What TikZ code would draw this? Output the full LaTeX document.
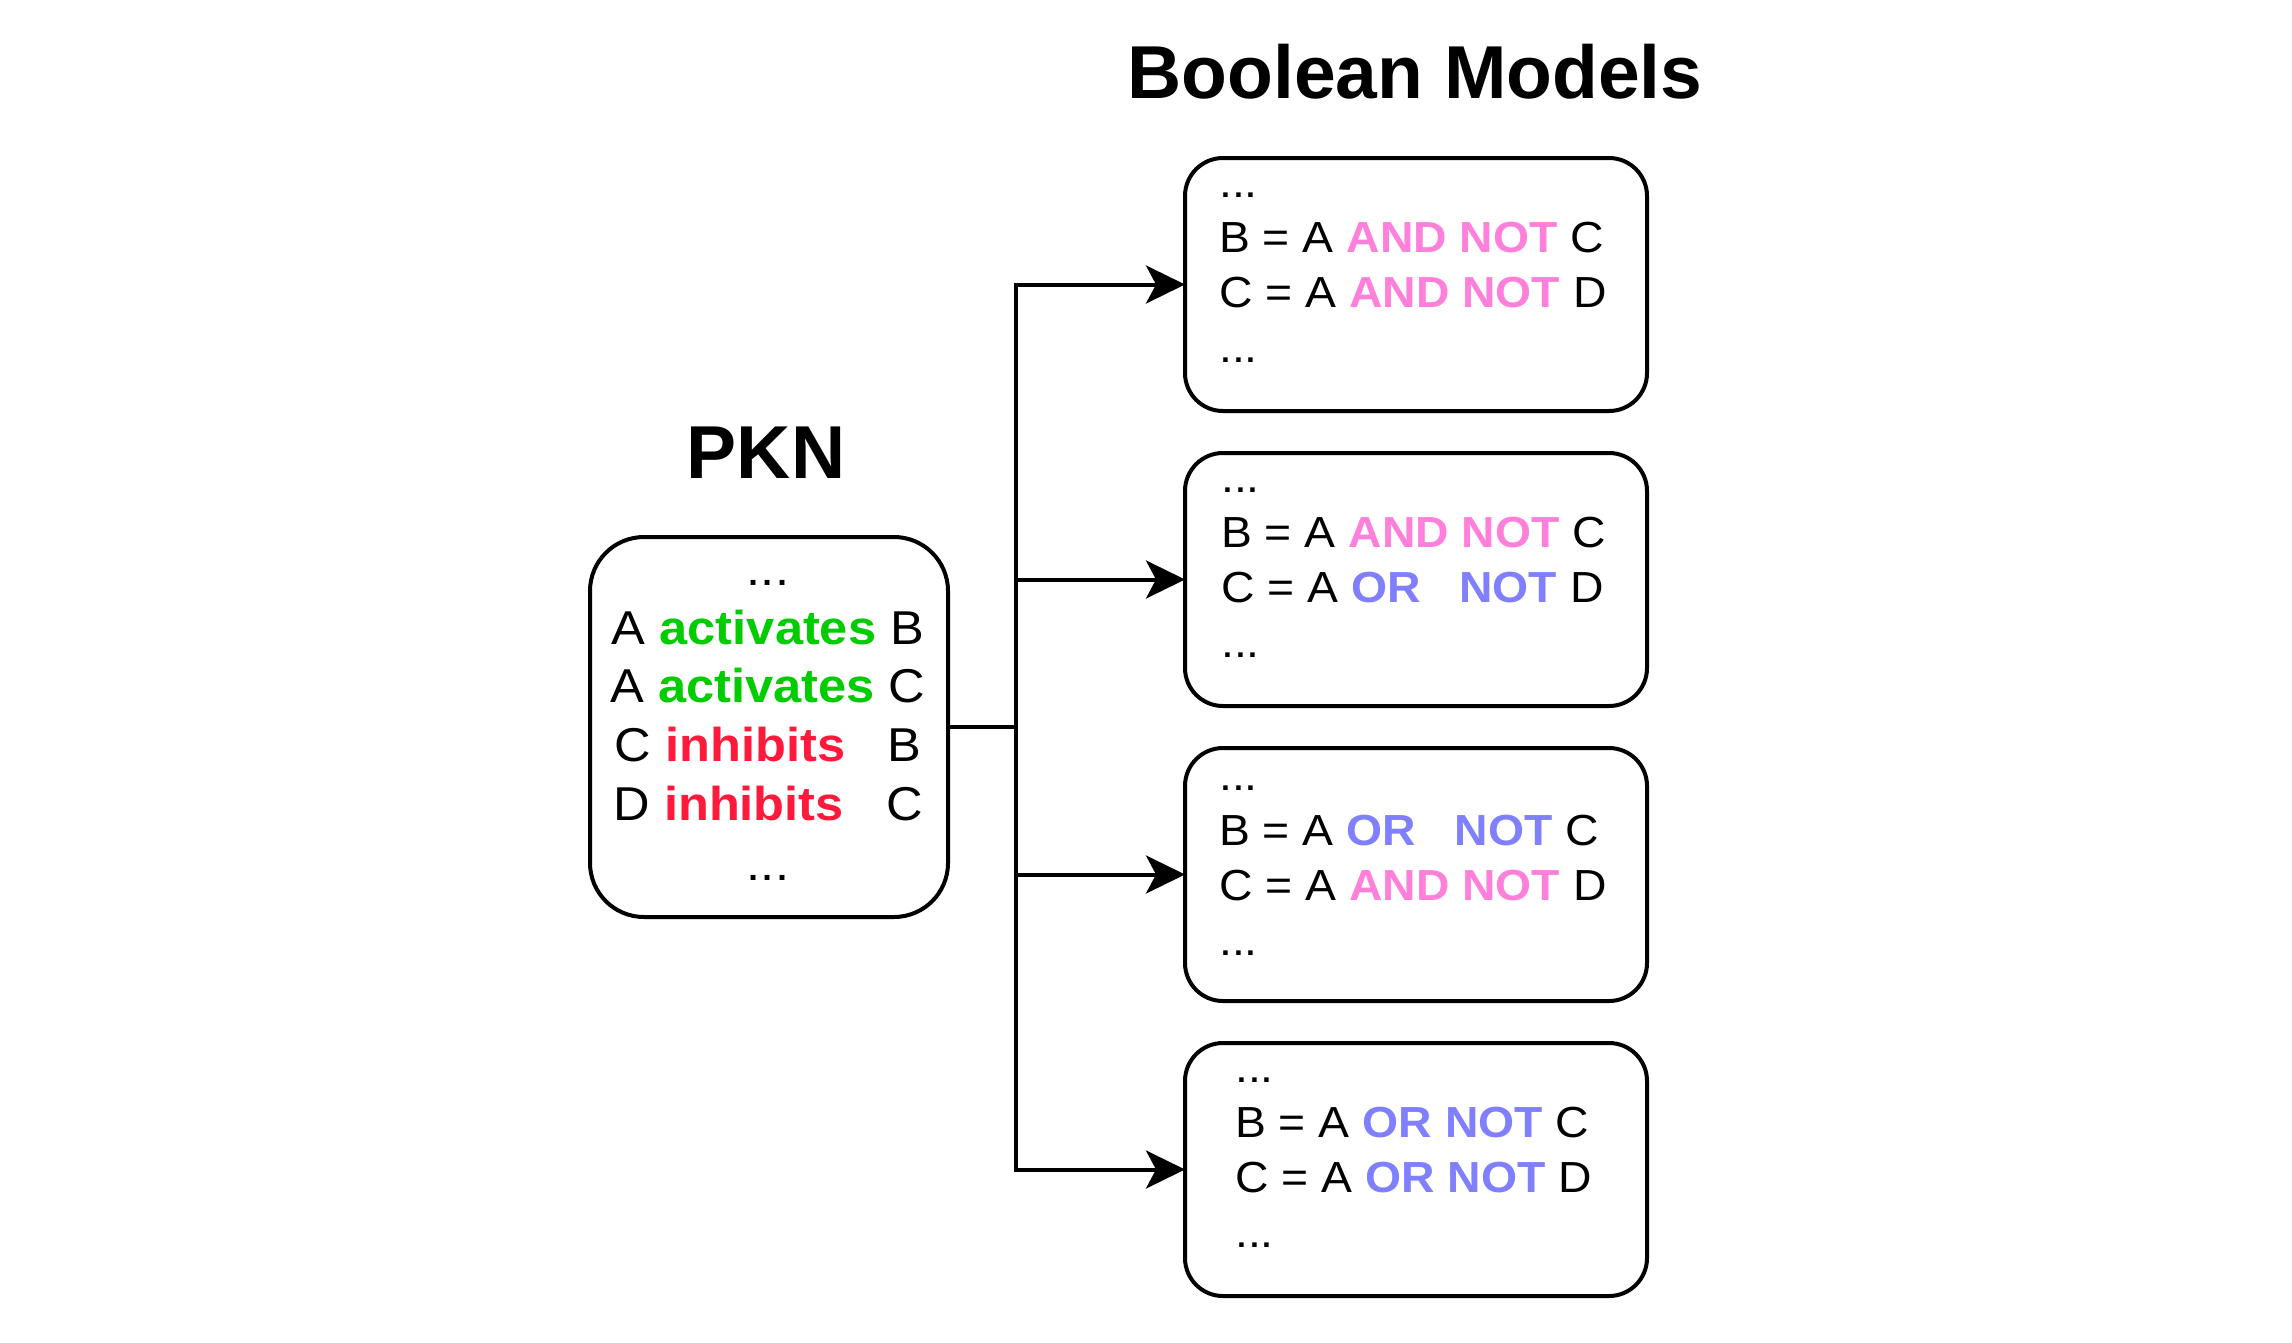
\documentclass[tikz,border=0pt]{standalone}
\usepackage{fontspec}
\setmainfont{Liberation Sans}
\newfontfamily\stretchfont{Liberation Sans}[FakeStretch=1.065]
\usetikzlibrary{arrows.meta}
\definecolor{actgreen}{HTML}{00CC00}
\definecolor{inhred}{HTML}{FF1A3C}
\definecolor{andpink}{HTML}{FF80DA}
\definecolor{orblue}{HTML}{8080FF}
\newcommand\myact{\textcolor{actgreen}{\bfseries activates}}
\newcommand\myinh{\textcolor{inhred}{\bfseries inhibits}}
\newcommand\myand{\textcolor{andpink}{\bfseries AND NOT}}
\newcommand\myor{\textcolor{orblue}{\bfseries OR NOT}}
\newcommand\myorsp{\textcolor{orblue}{\bfseries OR\ \ \ NOT}}
\tikzset{
  mbox/.style={draw=black, line width=4pt, rounded corners=38pt, fill=white,
    minimum width=462pt, minimum height=253pt, anchor=north west, inner sep=0pt, outer sep=0pt},
  pknbox/.style={draw=black, line width=4pt, rounded corners=54pt, fill=white,
    minimum width=358pt, minimum height=380pt, anchor=north west, inner sep=0pt, outer sep=0pt},
  mtext/.style={inner sep=0pt, anchor=base west, font=\stretchfont\fontsize{43.5}{55}\selectfont},
  ptext/.style={inner sep=0pt, anchor=base, font=\stretchfont\fontsize{47.5}{59}\selectfont},
  ttext/.style={inner sep=0pt, anchor=base, font=\bfseries\fontsize{75}{90}\selectfont},
  conn/.style={line width=4pt, draw=black},
  arr/.style={conn, -{Stealth[length=39pt, width=38pt, inset=10pt]}}
}
\newcommand\mlines[5]{%
  \node[mtext] (#1d1) at (#2,#3+39) {...};
  \node[mtext] (#1l1) at (#2,#3+94) {#4};
  \node[mtext] (#1l2) at (#2,#3+149) {#5};
  \node[mtext] (#1d2) at (#2,#3+204) {...};
}
\begin{document}
\begin{tikzpicture}[x=1pt, y=-1pt]
\useasboundingbox (0,0) rectangle (2292,1342);
\fill[white] (0,0) rectangle (2292,1342);

% titles
\node[ttext] (tbool) at (1415,98) {Boolean Models};
\node[ttext] (tpkn) at (766,478) {PKN};

% PKN box
\node[pknbox] (pkn) at (590,537) {};
\node[ptext] (p0) at (768,585) {...};
\node[ptext] (p1) at (768,644) {A \myact{} B};
\node[ptext] (p2) at (768,702) {A \myact{} C};
\node[ptext] (p3) at (768,761) {C \myinh\ \ \ B};
\node[ptext] (p4) at (768,820) {D \myinh\ \ \ C};
\node[ptext] (p5) at (768,880) {...};

% model boxes
\node[mbox] (m1) at (1185,158) {};
\node[mbox] (m2) at (1185,453) {};
\node[mbox] (m3) at (1185,748) {};
\node[mbox] (m4) at (1185,1043) {};

\mlines{a}{1219}{158}{B = A \myand{} C}{C = A \myand{} D}
\mlines{b}{1221}{453}{B = A \myand{} C}{C = A \myorsp{} D}
\mlines{c}{1219}{751}{B = A \myorsp{} C}{C = A \myand{} D}
\mlines{d}{1235}{1043}{B = A \myor{} C}{C = A \myor{} D}

% connectors
\coordinate (j) at (1016,727);
\draw[conn] (pkn.east) -- (j);
\draw[arr] (j) |- (m1.west);
\draw[arr] (j) |- (m2.west);
\draw[arr] (j) |- (m3.west);
\draw[arr] (j) |- (m4.west);
\end{tikzpicture}
\end{document}
